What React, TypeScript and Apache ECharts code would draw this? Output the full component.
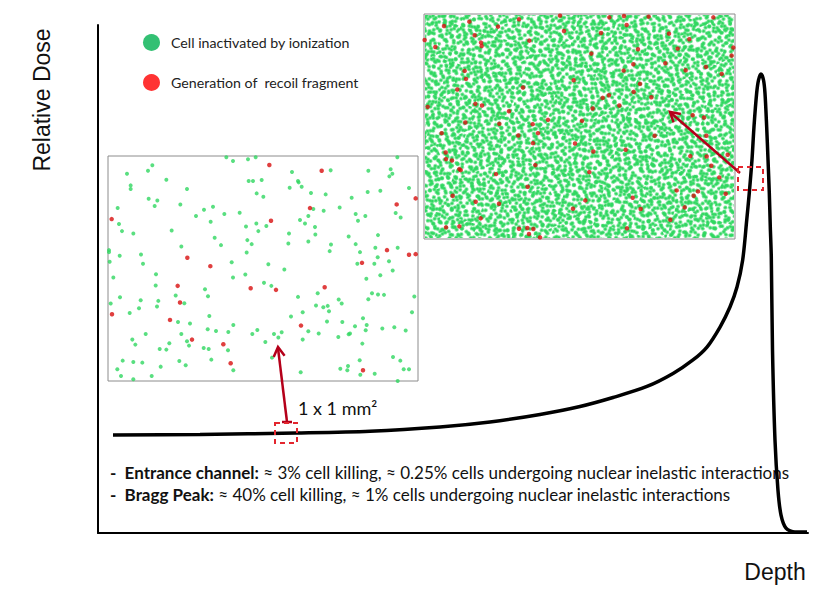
import { useEffect, useRef } from "react";
import * as echarts from "echarts";

// Bragg curve (depth %, relative dose %)
const depth = [2.11, 14.37, 27.89, 38.31, 48.17, 55.21, 62.25, 67.89, 72.54, 77.32, 80.99, 83.80, 85.77, 87.61, 89.01, 90.00, 90.80, 91.37, 91.73, 92.11, 92.39, 92.77, 93.03, 93.38, 93.73, 93.94, 94.18, 94.37, 94.55, 94.69, 94.83, 95.00, 95.35, 95.77, 96.20, 96.90, 98.17, 99.86];
const dose = [19.29, 19.39, 19.69, 20.04, 20.87, 21.85, 23.33, 24.90, 26.67, 28.84, 31.40, 34.06, 36.61, 40.55, 44.49, 48.43, 53.74, 61.61, 66.93, 73.43, 79.92, 86.61, 89.17, 90.35, 89.17, 86.61, 79.92, 73.43, 66.93, 60.24, 54.33, 36.02, 18.31, 8.46, 3.54, 0.98, 0.20, 0.20];

// Entrance-channel inset (1 x 1 mm² sample), cell positions
const entranceGreen = [
  [380,22],[400,33],[445,28],[468,22],[893,22],
  [158,46],[145,62],[82,71],[577,66],[693,61],[806,62],[873,58],[878,71],[869,79],
  [93,106],[93,117],[200,89],[447,93],[460,93],[486,90],[595,93],[597,97],[606,110],[570,113],[262,117],
  [471,130],[491,140],[634,129],[678,133],[804,126],[842,122],[928,114],
  [147,146],[173,151],[165,168],[242,163],[54,174],[756,143],
  [313,179],[340,170],[289,198],[374,192],[420,188],
  [641,177],[672,182],[720,172],[768,192],[797,198],[888,189],[903,202],
  [58,222],[67,243],[101,250],[216,241],[333,215],[439,229],[470,220],[476,243],[500,228],[601,210],[616,220],[626,198],[646,231],[647,253],[568,250],[566,280],[626,274],[775,212],[747,259],[835,255],
  [345,263],[364,285],[443,270],[456,282],[441,307],[245,289],[28,300],[28,306],
  [768,282],[694,283],[690,303],[781,306],[827,293],[894,293],[834,321],[60,317],[124,313],[130,341],[30,335],[396,336],[506,342],[554,358],[773,341],[824,341],[868,333],[879,361],
  [41,382],[169,372],[400,382],[437,373],[842,375],[800,386],
  [168,406],[493,398],[515,407],[316,417],[325,438],[228,436],[817,429],[835,433],[853,434],[944,439],[806,447],
  [61,441],[33,460],[123,450],[176,452],[172,469],[118,474],[254,459],[90,488],[595,440],[654,429],[717,448],[726,460],[649,466],[671,471],[684,467],[688,483],[609,486],[574,499],[937,486],[790,504],[801,524],
  [329,497],[235,515],[271,520],[324,537],[349,542],[386,545],[401,524],[458,551],[473,539],[523,551],[536,562],[546,546],[497,575],[626,543],[609,568],[657,550],[682,514],[728,515],[747,552],[751,550],[716,560],[766,528],[798,540],[848,535],[884,531],[918,541],
  [138,551],[98,568],[107,583],[245,551],[262,573],[268,586],[209,579],[180,596],[200,598],[312,593],[327,596],[385,600],[788,580],
  [69,631],[101,635],[128,637],[239,632],[183,649],[258,645],[335,628],[401,660],[517,622],[603,666],[722,655],[745,647],[743,660],[780,630],[782,673],[825,670],[880,620],[902,631],[912,657],[928,657],[53,657],[64,677],[101,687],[156,677],[894,692],
];
const entranceRed = [
  [509,45],[666,62],[948,145],[891,163],[631,174],[36,207],[514,212],[862,300],[928,314],[948,312],[263,323],[332,348],[787,338],[234,407],[453,414],[529,419],[675,411],[241,457],[37,492],[211,509],[604,526],[277,568],[371,582],[393,639],[790,660],
];

// Bragg-peak inset, recoil fragments
const peakRed = [
  [420,17],[612,18],[568,22],[686,20],[880,22],[297,28],[148,35],[72,48],[234,50],[620,45],[432,63],[543,69],[747,71],[164,76],[14,90],[328,92],[808,88],[183,98],[185,108],[46,111],[773,116],[654,118],[940,113],[935,137],[514,131],[736,160],[640,163],[858,171],[134,183],[611,182],[797,181],[905,192],[138,207],[461,211],[660,222],[112,239],[309,233],[641,246],[694,262],[548,264],[567,256],[166,282],[186,287],[23,291],[598,287],[518,296],[267,304],[818,316],[852,323],[136,338],[384,330],[486,333],[238,342],[338,343],[65,370],[295,377],[354,370],[704,378],[859,378],[465,401],[339,400],[77,428],[78,448],[96,452],[520,425],[617,420],[811,439],[860,440],[923,435],[118,478],[122,481],[346,466],[874,468],[228,493],[508,487],[898,503],[323,531],[98,558],[770,542],[834,545],[917,552],[821,558],[638,564],[496,572],[167,576],[237,582],[459,597],[662,598],[794,593],[182,626],[751,630],[78,653],[118,650],[297,657],[322,655],[340,658],[327,673],[621,656],[360,683],
];

const legendNames = ["Cell inactivated by ionization", "Generation of  recoil fragment"];
const axisNames = ["Depth", "Relative Dose"];
const sampleLabel = "1 x 1 mm²";
const notes = [
  ["-  Entrance channel:", " ≈ 3% cell killing, ≈ 0.25% cells undergoing nuclear inelastic interactions"],
  ["-  Bragg Peak:", " ≈ 40% cell killing, ≈ 1% cells undergoing nuclear inelastic interactions"],
];

// Texture tiles for the dense ionization field of the Bragg-peak inset (visual texture, not data)
const tileA = [[1,2],[4,3],[10,1],[13,4],[21,2],[24,5],[27,3],[33,1],[36,6],[2,9],[7,8],[16,9],[19,11],[29,10],[32,12],[5,15],[9,17],[12,15],[23,16],[26,18],[35,16],[1,22],[15,21],[18,24],[30,23],[33,25],[4,27],[8,29],[11,27],[22,28],[25,31],[36,30],[14,34],[17,33],[2,35],[28,35],[31,34],[20,36]];
const tileB = [[1,1],[7,4],[13,2],[20,6],[27,1],[33,5],[40,3],[4,10],[10,12],[17,9],[24,11],[30,10],[37,12],[42,9],[2,17],[8,20],[14,17],[21,19],[28,16],[34,19],[40,18],[5,25],[12,26],[18,24],[25,27],[31,25],[38,26],[1,32],[9,33],[15,31],[22,34],[29,32],[35,33],[41,35],[5,39],[12,40],[19,39],[26,38],[33,40],[39,40],[16,14],[36,28],[23,22],[6,14],[28,37]];
const tileC = [[3,5],[11,2],[19,8],[26,4],[7,14],[15,18],[23,13],[2,22],[10,26],[20,24],[27,28],[14,9],[5,29],[24,20]];

const GREEN = "#2fd760";
const RED = "#d80f0f";

function textureUrl(w: number, h: number) {
  const dots = (t: number[][]) => t.map(([x, y]) => `<circle cx="${x}" cy="${y}" r="1.85" fill="${GREEN}"/>`).join("");
  const svg = `<svg xmlns="http://www.w3.org/2000/svg" width="${w}" height="${h}"><defs>` +
    `<pattern id="a" width="37" height="37" patternUnits="userSpaceOnUse" patternTransform="rotate(17)">${dots(tileA)}</pattern>` +
    `<pattern id="b" width="43" height="41" patternUnits="userSpaceOnUse" patternTransform="rotate(-24)">${dots(tileB)}</pattern>` +
    `<pattern id="c" width="29" height="31" patternUnits="userSpaceOnUse" patternTransform="rotate(41)">${dots(tileC)}</pattern>` +
    `</defs><rect width="${w}" height="${h}" fill="url(#a)"/><rect width="${w}" height="${h}" fill="url(#b)"/><rect width="${w}" height="${h}" fill="url(#c)"/></svg>`;
  return "data:image/svg+xml;charset=utf-8," + encodeURIComponent(svg);
}

export default function App() {
  const ref = useRef<HTMLDivElement>(null);
  useEffect(() => {
    document.body.style.margin = "0";
    const chart = echarts.init(ref.current!, null, { renderer: "svg" });
    const hidden = { show: false };
    const insetGrid = { show: true, backgroundColor: "#fff", borderColor: "#8c8c8c", borderWidth: 1 };
    const arrowColor = "#b5001a";
    const dash = { stroke: "#e3262e", lineWidth: 2, fill: "none", lineDash: [5, 4] };
    chart.setOption({
      animation: false,
      backgroundColor: "#fff",
      grid: [
        { left: 98, top: 25, width: 710, height: 508 },
        { left: 108, top: 156, width: 310, height: 225, ...insetGrid },
        { left: 424, top: 14, width: 311, height: 225, ...insetGrid },
      ],
      xAxis: [
        { type: "value", gridIndex: 0, min: 0, max: 100, axisLine: { show: true, lineStyle: { color: "#000", width: 2 } }, axisTick: hidden, axisLabel: hidden, splitLine: hidden },
        { type: "value", gridIndex: 1, min: 25, max: 955, show: false },
        { type: "value", gridIndex: 2, min: 12, max: 945, show: false },
      ],
      yAxis: [
        { type: "value", gridIndex: 0, min: 0, max: 100, axisLine: { show: true, lineStyle: { color: "#000", width: 2 } }, axisTick: hidden, axisLabel: hidden, splitLine: hidden },
        { type: "value", gridIndex: 1, min: 18, max: 692, inverse: true, show: false },
        { type: "value", gridIndex: 2, min: 12, max: 688, inverse: true, show: false },
      ],
      legend: {
        orient: "vertical",
        left: 138,
        top: 29,
        itemWidth: 17,
        itemHeight: 17,
        itemGap: 23,
        icon: "circle",
        textStyle: { fontFamily: "Lato", fontSize: 14.2, color: "#222", padding: [0, 0, 0, 6] },
        data: [
          { name: legendNames[0], itemStyle: { color: "#00b050" } },
          { name: legendNames[1], itemStyle: { color: "#ff0000" } },
        ],
      },
      series: [
        {
          type: "line",
          xAxisIndex: 0,
          yAxisIndex: 0,
          data: depth.map((d, i) => [d, dose[i]]),
          smooth: 0.3,
          symbol: "none",
          lineStyle: { color: "#000", width: 3.5 },
          z: 3,
        },
        { type: "scatter", name: legendNames[0], xAxisIndex: 1, yAxisIndex: 1, data: entranceGreen, symbolSize: 4, itemStyle: { color: GREEN }, z: 4 },
        { type: "scatter", name: legendNames[1], xAxisIndex: 1, yAxisIndex: 1, data: entranceRed, symbolSize: 4.5, itemStyle: { color: RED }, z: 5 },
        { type: "scatter", name: legendNames[1], xAxisIndex: 2, yAxisIndex: 2, data: peakRed, symbolSize: 4.5, itemStyle: { color: RED }, z: 5 },
      ],
      graphic: [
        { type: "image", x: 425, y: 15, z: 1, style: { image: textureUrl(309, 223), width: 309, height: 223 } },
        { type: "text", x: 42, y: 100, rotation: Math.PI / 2, style: { text: axisNames[1], font: '23px "Liberation Sans"', fill: "#111", align: "center", verticalAlign: "middle" } },
        { type: "text", x: 775, y: 572, style: { text: axisNames[0], font: '23px "Liberation Sans"', fill: "#111", align: "center", verticalAlign: "middle" } },
        { type: "text", x: 298, y: 408, style: { text: sampleLabel, font: '18px Lato', fill: "#111", verticalAlign: "middle" } },
        ...notes.map((n, i) => ({
          type: "text",
          x: 110,
          y: 472 + i * 22,
          style: {
            text: `{b|${n[0]}}{r|${n[1]}}`,
            verticalAlign: "middle",
            rich: {
              b: { font: 'bold 17px Lato', fill: "#111" },
              r: { font: '17px Lato', fill: "#111" },
            },
          },
        })),
        // left arrow
        { type: "line", z: 6, shape: { x1: 287, y1: 422, x2: 278, y2: 348 }, style: { stroke: arrowColor, lineWidth: 2.5 } },
        { type: "line", z: 6, shape: { x1: 282, y1: 422, x2: 292, y2: 422 }, style: { stroke: arrowColor, lineWidth: 2.5 } },
        { type: "polyline", z: 6, shape: { points: [[273.7, 357.1], [278, 347], [284.6, 355.8]] }, style: { stroke: arrowColor, lineWidth: 2.5, fill: "none" } },
        // right arrow
        { type: "line", z: 6, shape: { x1: 740, y1: 173, x2: 671, y2: 113 }, style: { stroke: arrowColor, lineWidth: 2.5 } },
        { type: "polyline", z: 6, shape: { points: [[673.6, 122.4], [670, 112], [680.8, 114.1]] }, style: { stroke: arrowColor, lineWidth: 2.5, fill: "none" } },
        // dashed sample boxes
        { type: "rect", z: 6, shape: { x: 275, y: 423, width: 22, height: 20 }, style: dash },
        { type: "rect", z: 6, shape: { x: 738, y: 167, width: 25, height: 23 }, style: dash },
      ],
    });
    return () => chart.dispose();
  }, []);
  return <div ref={ref} style={{ width: 820, height: 593 }} />;
}
